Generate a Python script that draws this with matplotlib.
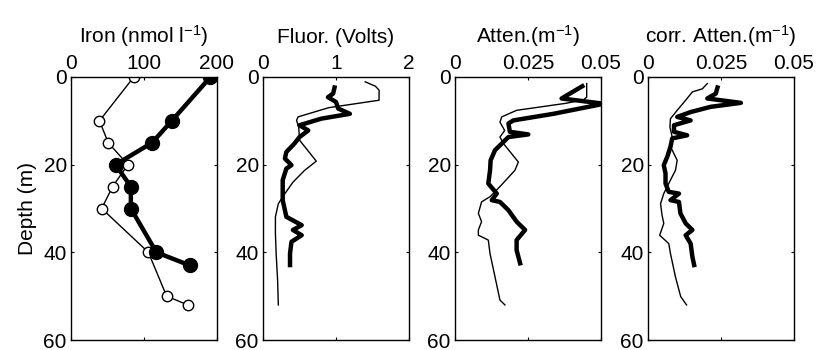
import matplotlib
matplotlib.use("Agg")
import matplotlib.pyplot as plt

plt.rcParams["font.family"] = ["Liberation Sans", "DejaVu Sans"]
plt.rcParams["mathtext.fontset"] = "custom"
plt.rcParams["mathtext.rm"] = "Liberation Sans"
plt.rcParams["mathtext.it"] = "Liberation Sans"
FS = 15

# Iron (nmol l-1): open circles (thin) and filled circles (thick)
iron_open_depth = [0, 10, 15, 20, 25, 30, 40, 50, 52]
iron_open_val = [86, 39, 51, 78, 57, 42, 106, 131, 160]
iron_fill_depth = [0, 10, 15, 20, 25, 30, 40, 43]
iron_fill_val = [191, 138, 111, 61, 82, 82, 117, 163]

# Fluorescence (Volts)
fluor_thin_depth = [1.1, 2.1, 3.0, 5.3, 7.0, 9.1, 9.9, 11.5, 14.4, 19.2, 21.3, 24.0,
                    26.6, 28.9, 31.9, 35.7, 40.3, 46.3, 52.0]
fluor_thin_val = [1.40, 1.54, 1.59, 1.59, 0.90, 0.48, 0.46, 0.49, 0.50, 0.73, 0.57, 0.41,
                  0.30, 0.21, 0.17, 0.17, 0.18, 0.20, 0.21]
fluor_thick_depth = [2.4, 3.8, 4.6, 5.7, 7.2, 8.4, 9.5, 11.0, 12.2, 13.7, 15.2, 17.1, 18.6,
                     20.1, 20.9, 23.5, 28.1, 31.9, 33.8, 34.9, 36.1, 37.6, 40.3, 42.9]
fluor_thick_val = [0.98, 0.96, 0.89, 1.00, 1.03, 1.19, 0.80, 0.50, 0.62, 0.50, 0.43, 0.32, 0.30,
                   0.39, 0.32, 0.27, 0.27, 0.32, 0.53, 0.41, 0.53, 0.39, 0.37, 0.37]

# Attenuation (m-1)
atten_thin_depth = [1.5, 4.6, 5.2, 6.0, 7.6, 9.1, 10.3, 12.2, 13.7, 15.2, 19.4, 21.3, 25.0,
                    27.3, 28.5, 31.1, 33.0, 34.9, 36.1, 37.2, 40.3, 45.6, 50.9, 52.0]
atten_thin_val = [0.0451, 0.0451, 0.0440, 0.0380, 0.0211, 0.0160, 0.0154, 0.0170, 0.0154,
                  0.0166, 0.0217, 0.0205, 0.0154, 0.0120, 0.0091, 0.0080, 0.0091, 0.0080,
                  0.0080, 0.0114, 0.0120, 0.0137, 0.0154, 0.0171]
atten_thick_depth = [2.1, 4.9, 6.1, 8.4, 9.9, 10.6, 12.5, 13.1, 13.7, 14.8, 16.7, 19.0, 21.3,
                     24.3, 26.6, 28.1, 28.5, 30.4, 33.0, 34.9, 37.2, 39.5, 42.5]
atten_thick_val = [0.0436, 0.0365, 0.0510, 0.0337, 0.0200, 0.0183, 0.0188, 0.0251, 0.0183,
                   0.0166, 0.0137, 0.0122, 0.0120, 0.0114, 0.0143, 0.0126, 0.0154, 0.0183,
                   0.0211, 0.0240, 0.0211, 0.0211, 0.0223]

# Corrected attenuation (m-1)
corr_thin_depth = [1.5, 2.7, 3.4, 5.3, 7.6, 9.5, 11.4, 13.7, 15.9, 19.0, 21.3, 23.5, 26.6,
                   28.9, 31.5, 33.4, 36.1, 38.0, 40.3, 45.6, 50.1, 52.0]
corr_thin_val = [0.0203, 0.0186, 0.0152, 0.0129, 0.0100, 0.0077, 0.0075, 0.0083, 0.0077,
                 0.0100, 0.0094, 0.0077, 0.0054, 0.0043, 0.0048, 0.0054, 0.0040, 0.0071,
                 0.0077, 0.0094, 0.0112, 0.0132]
corr_thick_depth = [2.4, 3.8, 4.9, 5.9, 6.8, 8.0, 9.1, 9.9, 11.0, 12.5, 13.3, 14.0, 15.9,
                    18.2, 20.1, 22.0, 24.3, 26.2, 26.6, 28.1, 28.5, 31.1, 33.4, 34.9, 36.1,
                    38.0, 41.0, 42.9]
corr_thick_val = [0.0238, 0.0232, 0.0203, 0.0318, 0.0215, 0.0146, 0.0100, 0.0146, 0.0089,
                  0.0089, 0.0134, 0.0083, 0.0077, 0.0066, 0.0054, 0.0060, 0.0060, 0.0071,
                  0.0106, 0.0077, 0.0106, 0.0111, 0.0129, 0.0152, 0.0129, 0.0146, 0.0152,
                  0.0158]

titles = [r"Iron (nmol l$^{-1}$)", "Fluor. (Volts)", r"Atten.(m$^{-1}$)",
          r"corr. Atten.(m$^{-1}$)"]
xlims = [(0, 200), (0, 2), (0, 0.05), (0, 0.05)]
xticks = [[0, 100, 200], [0, 1, 2], [0, 0.025, 0.05], [0, 0.025, 0.05]]
xticklabels = [["0", "100", "200"], ["0", "1", "2"], ["0", "0.025", "0.05"],
               ["0", "0.025", "0.05"]]

fig = plt.figure(figsize=(8.18, 3.5), dpi=100)
lefts = [71, 263, 455, 648]
axes = []
for l in lefts:
    ax = fig.add_axes([l / 818, 1 - 340 / 350, 146 / 818, 263 / 350])
    axes.append(ax)

ax = axes[0]
ax.plot(iron_open_val, iron_open_depth, "-o", color="black", lw=1.0, ms=7.5,
        mfc="white", mec="black", mew=1.0)
ax.plot(iron_fill_val, iron_fill_depth, "-o", color="black", lw=3.2, ms=10,
        mfc="black", mec="black")

axes[1].plot(fluor_thin_val, fluor_thin_depth, color="black", lw=1.0)
axes[1].plot(fluor_thick_val, fluor_thick_depth, color="black", lw=3.2)
axes[2].plot(atten_thin_val, atten_thin_depth, color="black", lw=1.0)
axes[2].plot(atten_thick_val, atten_thick_depth, color="black", lw=3.2)
axes[3].plot(corr_thin_val, corr_thin_depth, color="black", lw=1.0)
axes[3].plot(corr_thick_val, corr_thick_depth, color="black", lw=3.2)

for i, ax in enumerate(axes):
    ax.set_xlim(*xlims[i])
    ax.set_ylim(60, 0)
    ax.set_xticks(xticks[i])
    ax.set_xticklabels(xticklabels[i])
    ax.set_yticks([0, 20, 40, 60])
    ax.tick_params(direction="in", length=2.5, width=0.8, labelsize=FS,
                   top=True, bottom=True, left=True, right=True,
                   labeltop=True, labelbottom=False)
    ax.tick_params(axis="x", pad=3)
    ax.tick_params(axis="y", pad=3)
    for s in ax.spines.values():
        s.set_linewidth(1.0)
    ax.set_title(titles[i], fontsize=FS, pad=8)

axes[0].set_ylabel("Depth (m)", fontsize=FS, labelpad=5)

fig.savefig("out.png", dpi=100)
